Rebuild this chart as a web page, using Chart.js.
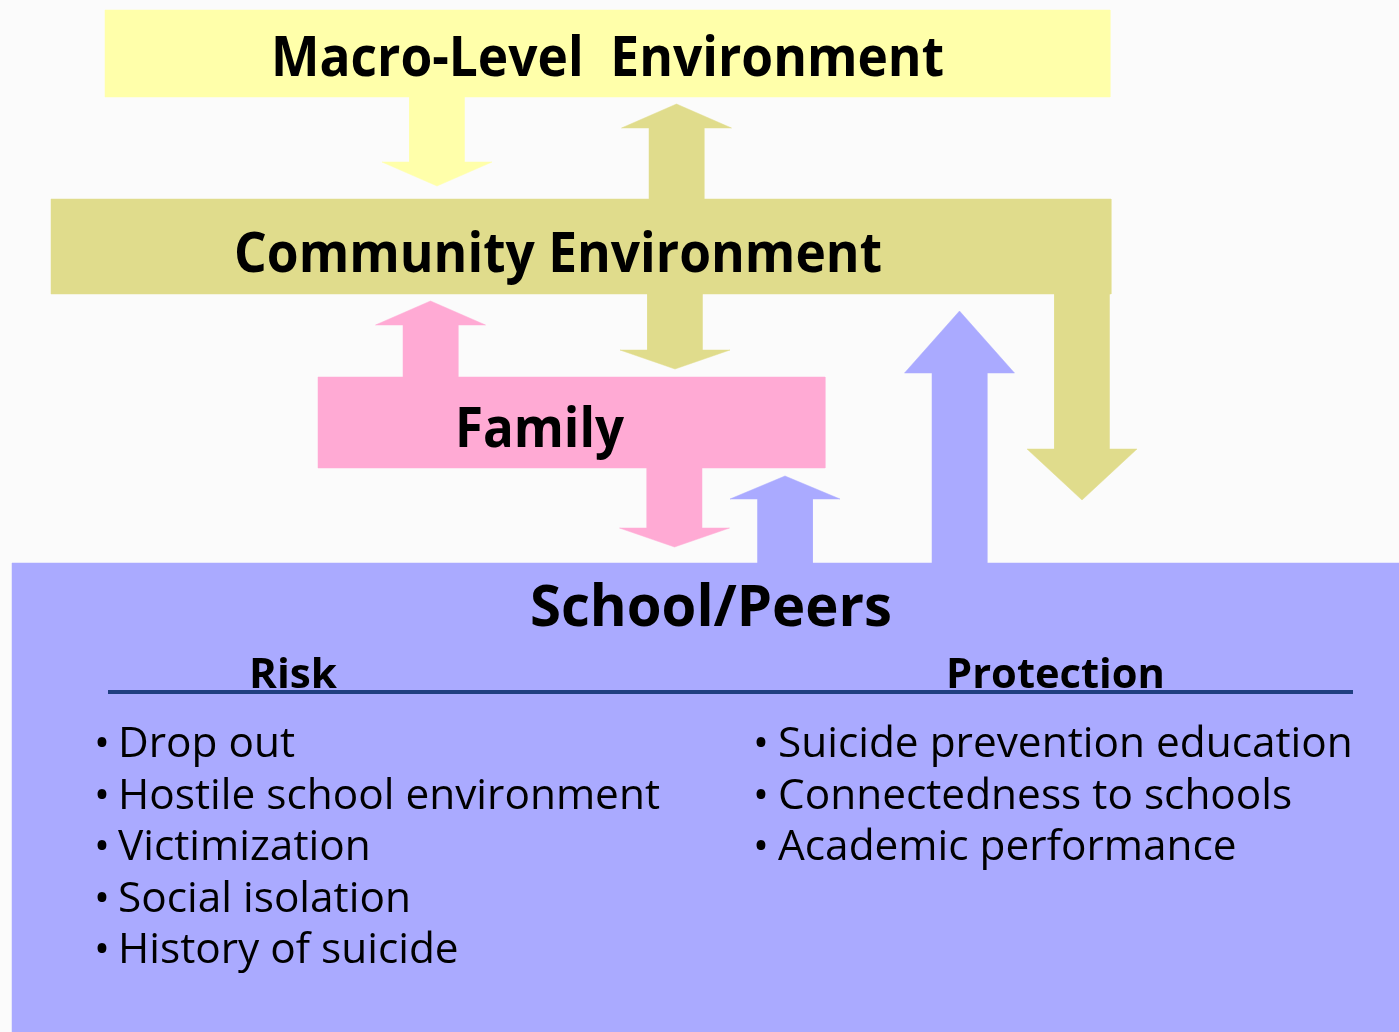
<!DOCTYPE html>
<html>
<head>
<meta charset="utf-8">
<script src="https://cdn.jsdelivr.net/npm/chart.js@4.4.1/dist/chart.umd.min.js"></script>
<style>
    html, body { margin: 0; padding: 0; background: #fbfbfb; }
    #wrap { width: 1399px; height: 1032px; position: relative; }
</style>
</head>
<body>
<div id="wrap"><canvas id="ecoChart"></canvas></div>
<script>
// Levels of the model (boxes), drawn in page units 0..1399 x 0..1032
const levels = ['Macro-Level  Environment', 'Community Environment', 'Family', 'School/Peers'];
const levelLeft = [105, 51, 318, 12];
const levelRight = [1110, 1111, 825, 1399];
const levelTop = [10, 199, 377, 563];
const levelBottom = [97, 294, 468, 1032];

// Arrows between levels: which level colour, centre x, tail y, tip y, head length
const arrowLevel = [0, 1, 1, 1, 2, 2, 3, 3];
const arrowX = [437, 676.5, 1082, 675, 430.5, 674.5, 785, 959.5];
const arrowTail = [97, 199, 294, 294, 377, 468, 563, 563];
const arrowTip = [186, 104, 500, 369, 301, 547, 476, 311];
const arrowHead = [24, 24, 51, 19, 24, 19, 23, 62];

// School/Peers factors
const riskFactors = ['Drop out', 'Hostile school environment', 'Victimization', 'Social isolation', 'History of suicide'];
const protectiveFactors = ['Suicide prevention education', 'Connectedness to schools', 'Academic performance'];

const levelColours = ['#ffffaa', '#e0dc8c', '#ffaad4', '#aaaaff'];

function boxPoints(i) {
    return [
        { x: levelLeft[i], y: levelTop[i] },
        { x: levelRight[i], y: levelTop[i] },
        { x: levelRight[i], y: levelBottom[i] },
        { x: levelLeft[i], y: levelBottom[i] },
        { x: levelLeft[i], y: levelTop[i] }
    ];
}

function arrowPoints(i) {
    let cx = arrowX[i], y0 = arrowTail[i], y1 = arrowTip[i];
    let dir = y1 > y0 ? 1 : -1;
    let base = y1 - dir * arrowHead[i];
    let shaft = 27.5, head = 55;
    return [
        { x: cx - shaft, y: y0 },
        { x: cx - shaft, y: base },
        { x: cx - head, y: base },
        { x: cx, y: y1 },
        { x: cx + head, y: base },
        { x: cx + shaft, y: base },
        { x: cx + shaft, y: y0 },
        { x: cx - shaft, y: y0 }
    ];
}

function shape(points, colour, order) {
    return {
        data: points,
        showLine: true,
        fill: 'shape',
        backgroundColor: colour,
        borderColor: colour,
        borderWidth: 0.5,
        pointRadius: 0,
        tension: 0,
        order: order
    };
}

let datasets = [];
// underline below Risk / Protection
datasets.push({
    data: [{ x: 108, y: 692 }, { x: 1353, y: 692 }],
    showLine: true,
    fill: false,
    borderColor: '#1f3f80',
    borderWidth: 4,
    pointRadius: 0,
    order: 0
});
arrowX.forEach((_, i) => datasets.push(shape(arrowPoints(i), levelColours[arrowLevel[i]], 1)));
levels.forEach((_, i) => datasets.push(shape(boxPoints(i), levelColours[i], 2)));

// text: label, x, baseline, size, bold, align, width to fit
const titles = [
    [levels[0], 607.5, 76, 56, 673],
    [levels[1], 558, 272, 56, 648],
    [levels[2], 539.5, 447, 56, 169],
    [levels[3], 711, 626, 58, 362],
    ['Risk', 293, 688, 42, 88],
    ['Protection', 1055.5, 688, 42, 219]
];

const textPlugin = {
    id: 'diagramText',
    afterDatasetsDraw(chart) {
        const ctx = chart.ctx;
        const sx = chart.scales.x, sy = chart.scales.y;
        ctx.save();
        ctx.fillStyle = '#000';
        ctx.textBaseline = 'alphabetic';

        titles.forEach(t => {
            ctx.font = 'bold ' + t[3] + 'px "Open Sans"';
            let w = ctx.measureText(t[0]).width;
            ctx.save();
            ctx.translate(sx.getPixelForValue(t[1]), sy.getPixelForValue(t[2]));
            ctx.scale(t[4] / w, 1);
            ctx.textAlign = 'center';
            ctx.fillText(t[0], 0, 0);
            ctx.restore();
        });

        // bullet lists, squeezed to the same narrow face
        ctx.font = '42px "Open Sans"';
        let squeeze = 542 / ctx.measureText(riskFactors[1]).width;
        ctx.textAlign = 'left';
        const drawList = (items, bulletX, textX) => {
            items.forEach((item, i) => {
                let y = sy.getPixelForValue(757 + i * 51.5);
                ctx.save();
                ctx.translate(sx.getPixelForValue(bulletX), y);
                ctx.scale(squeeze, 1);
                ctx.fillText('\u2022', 0, 0);
                ctx.restore();
                ctx.save();
                ctx.translate(sx.getPixelForValue(textX), y);
                ctx.scale(squeeze, 1);
                ctx.fillText(item, 0, 0);
                ctx.restore();
            });
        };
        drawList(riskFactors, 94, 118);
        drawList(protectiveFactors, 753, 778);
        ctx.restore();
    }
};

function makeChart() {
    new Chart(document.getElementById('ecoChart'), {
        type: 'scatter',
        data: { datasets: datasets },
        options: {
            responsive: true,
            maintainAspectRatio: false,
            animation: false,
            events: [],
            layout: { padding: 0 },
            plugins: { legend: { display: false }, tooltip: { enabled: false } },
            scales: {
                x: { type: 'linear', min: 0, max: 1399, display: false },
                y: { type: 'linear', min: 0, max: 1032, reverse: true, display: false }
            }
        },
        plugins: [textPlugin]
    });
}

Promise.all([
    document.fonts.load('bold 56px "Open Sans"'),
    document.fonts.load('42px "Open Sans"')
]).then(makeChart, makeChart);
</script>
</body>
</html>
